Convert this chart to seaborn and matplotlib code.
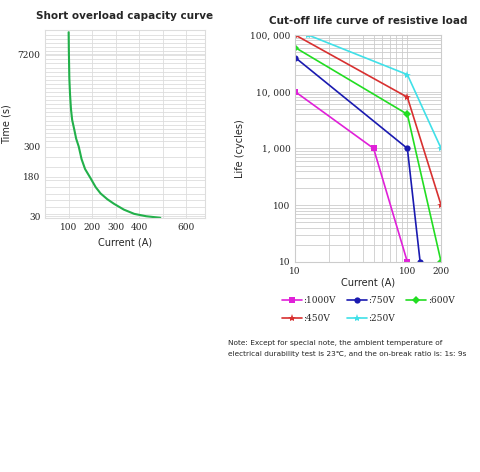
import numpy as np
import matplotlib
matplotlib.use("Agg")
import matplotlib.pyplot as plt
import seaborn as sns

# short overload curve
overload_current = [100, 101, 103, 106, 110, 115, 124, 132, 143, 155, 170, 193, 215, 236, 265, 293, 335, 379, 430, 490]
overload_time = [8850, 7450, 5425, 4200, 3100, 2300, 1580, 900, 305, 250, 210, 174, 140, 116, 94, 77, 55, 39, 30, 24]

# cut-off life curves
life_labels = [":1000V", ":750V", ":600V", ":450V", ":250V"]
life_current = [[10, 50, 100], [10, 100, 130], [10, 100, 200], [10, 100, 200], [13, 100, 200]]
life_cycles = [[10000, 1000, 10], [40000, 1000, 10], [60000, 4000, 10], [100000, 8000, 100], [100000, 20000, 1000]]
life_colors = ["#e020d8", "#1a1ab0", "#22dd22", "#d83030", "#40e0e8"]
life_markers = ["s", "o", "D", "*", "*"]

sns.set_style("white")
plt.rcParams['font.family'] = ['DejaVu Sans']

fig = plt.figure(figsize=(4.8, 4.72), dpi=100)

# piecewise scale for the left chart's uneven time axis
anchor_v = [0, 30, 180, 300, 7200, 9000]
anchor_p = [-5, 18, 135, 223, 495, 566]
fwd = lambda v: np.interp(v, anchor_v, anchor_p)
inv = lambda p: np.interp(p, anchor_p, anchor_v)

ax1 = fig.add_axes([0.094, 0.538, 0.333, 0.398])
ax1.set_yscale('function', functions=(fwd, inv))
sns.lineplot(x=overload_current, y=overload_time, ax=ax1, color="#22b04a", lw=1.5)
ax1.set_xlim(0, 680)
ax1.set_ylim(23, 9000)
ax1.set_xticks([100, 200, 300, 400, 600])
ax1.set_xticks([500], minor=True)
ax1.set_yticks([30, 180, 300, 7200])
minor_y = list(np.arange(40, 180, 25)) + [220, 260] + list(inv(np.arange(240, 560, 12)))
ax1.set_yticks(minor_y, minor=True)
ax1.grid(True, which='both', color="#dddddd", lw=0.6)
ax1.tick_params(which='both', length=0, labelsize=6.5)
for lab in ax1.get_xticklabels() + ax1.get_yticklabels():
    lab.set_family('DejaVu Serif')
for s in ax1.spines.values():
    s.set_color("#dddddd")
ax1.set_xlabel("Current (A)", fontsize=7)
ax1.set_ylabel("Time (s)", fontsize=7)
ax1.set_title("Short overload capacity curve", fontsize=7.5, fontweight='bold', pad=8)

ax2 = fig.add_axes([0.615, 0.445, 0.304, 0.481])
for i, lab in enumerate(life_labels):
    ms = 6 if life_markers[i] == "*" else 4.5
    sns.lineplot(x=life_current[i], y=life_cycles[i], ax=ax2, color=life_colors[i],
                 marker=life_markers[i], markersize=ms, markeredgewidth=0, lw=1.2,
                 label=lab, legend=False)
ax2.set_xscale('log')
ax2.set_yscale('log')
ax2.set_xlim(10, 200)
ax2.set_ylim(10, 100000)
ax2.set_xticks([10, 100, 200])
ax2.set_xticklabels(["10", "100", "200"])
ax2.set_yticks([10, 100, 1000, 10000, 100000])
ax2.set_yticklabels(["10", "100", "1, 000", "10, 000", "100, 000"])
ax2.grid(True, which='both', color="#cccccc", lw=0.6)
ax2.tick_params(which='both', length=0, labelsize=6.5)
for lab in ax2.get_xticklabels() + ax2.get_yticklabels():
    lab.set_family('DejaVu Serif')
for s in ax2.spines.values():
    s.set_color("#cccccc")
ax2.set_xlabel("Current (A)", fontsize=7, labelpad=1)
ax2.set_ylabel("Life (cycles)", fontsize=7)
ax2.set_title("Cut-off life curve of resistive load", fontsize=7.5, fontweight='bold', pad=8)

# legend fills row-wise in the reference: 1000V, 750V, 600V / 450V, 250V
handles, labels = ax2.get_legend_handles_labels()
order = [0, 3, 1, 4, 2]
fig.legend([handles[i] for i in order], [labels[i] for i in order], loc='upper left',
           bbox_to_anchor=(0.57, 0.39), ncol=3, frameon=False,
           prop={'family': 'DejaVu Serif', 'size': 6.5}, labelspacing=1.0,
           handlelength=2.2, columnspacing=1.2, handletextpad=0.2)

fig.text(0.475, 0.28, "Note: Except for special note, the ambient temperature of\n"
         "electrical durability test is 23\u2103, and the on-break ratio is: 1s: 9s",
         fontsize=5.3, va='top', linespacing=2.0)

fig.savefig("out.png", dpi=100)
